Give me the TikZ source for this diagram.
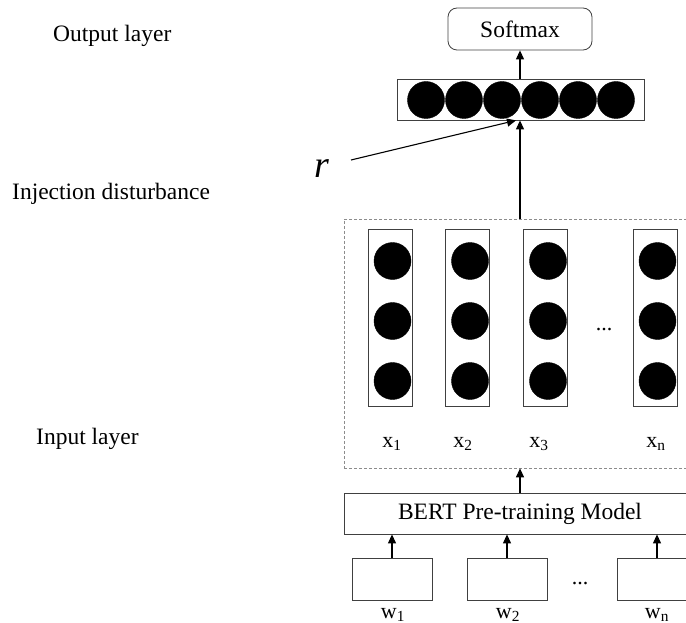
\documentclass[tikz,border=0pt]{standalone}
\usepackage{fontspec}
\setmainfont{Liberation Serif}
\usetikzlibrary{arrows.meta}
\tikzset{
  box/.style={draw=black!75, line width=0.8pt, inner sep=0pt},
  dot/.style={circle, fill=black, draw=black, inner sep=0pt, minimum size=37pt},
  col/.style={box, minimum width=44pt, minimum height=177pt},
  wbox/.style={box, minimum width=80pt, minimum height=42pt},
  arr/.style={line width=1.1pt, -{Triangle[length=9pt,width=8pt]}},
  lbl/.style={font=\fontsize{23.5}{28}\selectfont, inner sep=0pt},
  sub/.style={font=\fontsize{22}{26}\selectfont, inner sep=0pt, anchor=base}
}
\begin{document}
\begin{tikzpicture}[x=1pt,y=-1pt]
\useasboundingbox (0,0) rectangle (686,623);
\clip (0,0) rectangle (686,623);
% left labels
\node[lbl, anchor=base west] (lout) at (53,42) {Output layer};
\node[lbl, anchor=base west] (linj) at (12,200) {Injection disturbance};
\node[lbl, anchor=base west] (linp) at (36,444) {Input layer};
% softmax
\node[box, rounded corners=9pt, minimum width=144pt, minimum height=42pt, font=\fontsize{23.5}{28}\selectfont] (soft) at (520,29) {Softmax};
% bar
\node[box, minimum width=247pt, minimum height=41pt] (bar) at (520.5,99.5) {};
\foreach \i in {0,...,5} {
  \node[dot] (b\i) at (426+38*\i,100) {};
}
% dashed box
\node[draw=black!45, dashed, dash pattern=on 3pt off 2pt, line width=0.7pt, minimum width=352pt, minimum height=249pt, inner sep=0pt] (dash) at (520,343.5) {};
% columns
\foreach \n/\x in {1/390, 2/467.5, 3/545.5, 4/655} {
  \node[col] (c\n) at (\x,317.5) {};
  \node[dot] (c\n a) at (\x+2.5,261) {};
  \node[dot] (c\n b) at (\x+2.5,321) {};
  \node[dot] (c\n c) at (\x+2.5,381) {};
}
\node[sub] (dots1) at (604,330) {...};
\node[sub] (x1) at (392,447) {x\textsubscript{1}};
\node[sub] (x2) at (463,447) {x\textsubscript{2}};
\node[sub] (x3) at (539,447) {x\textsubscript{3}};
\node[sub] (xn) at (656,447) {x\textsubscript{n}};
% r
\node[font=\fontsize{38}{44}\selectfont\itshape, inner sep=0pt, anchor=base] (r) at (322,178) {r};
\coordinate (rs) at (351,160);
% BERT
\node[box, minimum width=352pt, minimum height=41pt, font=\fontsize{23.5}{28}\selectfont] (bert) at (520,513.5) {BERT Pre-training Model};
% w boxes
\node[wbox] (w1) at (392,579) {};
\node[wbox] (w2) at (507,579) {};
\node[wbox] (w3) at (657,579) {};
\node[sub] (dots2) at (580,584) {...};
\node[sub] (lw1) at (393,618) {w\textsubscript{1}};
\node[sub] (lw2) at (508,618) {w\textsubscript{2}};
\node[sub] (lw3) at (657,618) {w\textsubscript{n}};
% arrows
\draw[arr] (soft.south |- bar.north) -- (soft.south);
\draw[arr] (soft.south |- dash.north) -- (soft.south |- bar.south);
\draw[arr] (rs) -- ([xshift=-4pt]soft.south |- bar.south);
\draw[arr] (bert.north) -- (dash.south);
\draw[arr] (w1.north) -- (w1.north |- bert.south);
\draw[arr] (w2.north) -- (w2.north |- bert.south);
\draw[arr] (w3.north) -- (w3.north |- bert.south);
\end{tikzpicture}
\end{document}
